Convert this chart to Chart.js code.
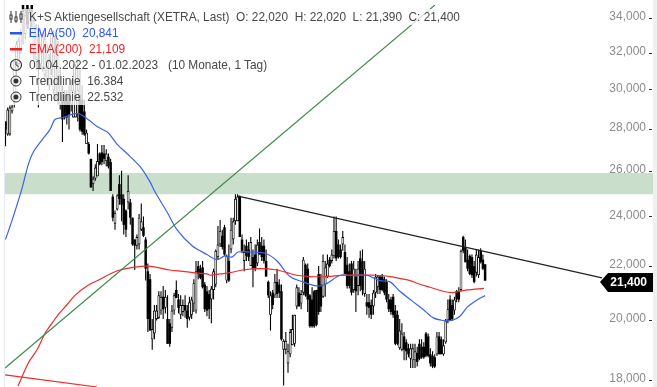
<!DOCTYPE html>
<html>
<head>
<meta charset="utf-8">
<script src="https://cdn.jsdelivr.net/npm/chart.js@4/dist/chart.umd.min.js"></script>
<style>
    html, body { margin: 0; padding: 0; background: #fff; overflow: hidden; }
    #wrap { position: relative; width: 657px; height: 387px; font-family: "Liberation Sans", Arial, sans-serif; }
    #chart { position: absolute; left: 0; top: 0; }
    #edgeLeft { position: absolute; left: 4px; top: 0; width: 1px; height: 387px; background: #e6e9f6; }
    #edgeRight { position: absolute; left: 653px; top: 0; width: 4px; height: 387px; background: #f0f0f0; }
    #legend { position: absolute; left: 9px; top: 9px; font-size: 11.85px; line-height: 16px; color: #484848; }
    #legend .row { height: 16px; white-space: nowrap; background: rgba(255, 255, 255, 0.78); width: max-content; padding-right: 4px; }
    #legend .row.short { width: 166px; padding-right: 0; }
    #legend svg { display: inline-block; width: 14px; height: 14px; vertical-align: -3px; margin: 0 6px 0 0; }
    .blue { color: #2b55f5; }
    .red { color: #f52020; }
</style>
</head>
<body>
<div id="wrap">
    <canvas id="chart" width="657" height="387"></canvas>
    <div id="edgeLeft"></div>
    <div id="edgeRight"></div>
    <div id="legend">
        <div class="row"><svg viewBox="0 0 14 14"><path d="M2 1v12M7 1v12M12 1v12" stroke="#333"/><rect x="1" y="5" width="2" height="4" fill="#fff" stroke="#333"/><rect x="6" y="7" width="2" height="4" fill="#fff" stroke="#333"/><rect x="11" y="4" width="2" height="5" fill="#fff" stroke="#333"/></svg>K+S Aktiengesellschaft (XETRA, Last)&nbsp; O: 22,020&nbsp; H: 22,020&nbsp; L: 21,390&nbsp; C: 21,400</div>
        <div class="row short blue"><svg viewBox="0 0 14 14"><rect x="1" y="6" width="12" height="2.5" fill="#2b55f5"/></svg>EMA(50)&nbsp; 20,841</div>
        <div class="row short red"><svg viewBox="0 0 14 14"><rect x="1" y="6" width="12" height="2.5" fill="#f52020"/></svg>EMA(200)&nbsp; 21,109</div>
        <div class="row"><svg viewBox="0 0 14 14"><circle cx="7" cy="7" r="5.5" fill="none" stroke="#333" stroke-width="1.2"/><path d="M7 3.5V7l2.5 1.5" fill="none" stroke="#333"/></svg>01.04.2022 - 01.02.2023&nbsp;&nbsp; (10 Monate, 1 Tag)</div>
        <div class="row short"><svg viewBox="0 0 14 14"><circle cx="7" cy="7" r="5" fill="none" stroke="#333"/><circle cx="7" cy="7" r="2.5" fill="#333"/></svg>Trendlinie&nbsp; 16.384</div>
        <div class="row short"><svg viewBox="0 0 14 14"><circle cx="7" cy="7" r="5" fill="none" stroke="#333"/><circle cx="7" cy="7" r="2.5" fill="#333"/></svg>Trendlinie&nbsp; 22.532</div>
    </div>
</div>
<script>
const opens = [
    28.3, 27.66, 27.66, 28.8, 29.4, 31, 31.3, 32.1, 35, 33, 34.9, 33.3, 35, 32.1, 31.55, 31, 31.3, 31.1, 30.7, 30.45,
    30.15, 31, 29.9, 29.65, 29.4, 29.15, 29.65, 29.65, 29.65, 29.65, 29.15, 28.5, 28.5, 28.65, 29.65, 29.4, 28.8, 27.2, 27.2, 26.5,
    25.35, 25.6, 25.7, 26.75, 26.8, 26.75, 26.4, 26.6, 26.35, 24.8, 23.65, 24.25, 25.35, 24.9, 24.7, 24.2, 24.55, 24.55, 23.9, 23,
    22.75, 22.8, 23.4, 23.5, 23, 21.75, 21.45, 19.3, 19.5, 20, 20.05, 20.3, 20.8, 20.4, 20, 19.85, 19.7, 20.3, 21.05, 20.7,
    20.15, 20.25, 20.5, 20.3, 20.05, 20.15, 20.55, 20.3, 21.95, 21.85, 21.9, 21.25, 21, 20.9, 20.7, 21.05, 21.25, 22.3, 22.8, 23.15,
    23.5, 21.4, 22.15, 22.6, 23, 23.75, 23.75, 24.8, 23, 22.15, 22.75, 22.6, 21.95, 22.3, 22.4, 22.05, 22.9, 22.75, 22.75, 22.15,
    21.35, 20.15, 20.95, 20.85, 21.35, 21.25, 21, 18.95, 18.95, 18.5, 18.8, 19.1, 19.15, 20.45, 20.95, 20.55, 20.95, 22, 21.85, 20.85,
    20.7, 21, 21.05, 21.65, 21.25, 20.8, 21.25, 21.55, 22.2, 22.15, 22.35, 23.35, 22.8, 22.6, 22.8, 22.5, 22, 21.75, 22.05, 21.05,
    21.55, 21.2, 22.25, 22.15, 20.9, 20.6, 20.6, 20.5, 20.45, 20.95, 21.15, 21.55, 21.55, 21.45, 21.35, 20.7, 20.7, 20.8, 20.3, 20.15,
    19, 18.95, 19.4, 19.2, 19, 18.65, 18.6, 18.6, 18.85, 19.15, 19.05, 19.05, 19.5, 19.4, 18.8, 18.75, 18.7, 18.8, 19.4, 19.3,
    18.8, 19.2, 19.95, 20.7, 20.5, 20.3, 21, 21, 21.05, 23.1, 22.7, 22.2, 22.35, 22.3, 21.95, 21.7, 21.6, 22.55, 22.2, 22.02
];
const highs = [
    28.3, 29, 29.1, 29.15, 31.55, 32.6, 32.8, 33.3, 35, 34.5, 35, 34.5, 35, 34.1, 33.55, 33.55, 33.3, 33.1, 33, 32.4,
    31.85, 33.2, 33.2, 33, 32.6, 31, 30.15, 29.9, 29.9, 30.15, 30.45, 31.3, 31.3, 31.55, 31, 30.15, 29.4, 27.9, 27.3, 26.5,
    25.7, 26.25, 27.2, 26.8, 27.15, 27.15, 26.95, 26.75, 26.5, 24.9, 24.2, 24.9, 25.75, 25.95, 24.9, 24.25, 25.75, 24.7, 23.9, 23,
    23.2, 24.05, 24.5, 23.95, 23.1, 22.05, 21.65, 20, 20.5, 20.5, 21, 21, 21.2, 21.05, 20.85, 20, 20.5, 20.95, 21.4, 20.9,
    20.85, 20.7, 20.85, 20.5, 20.8, 20.8, 21.45, 22.15, 22.15, 22, 22.15, 21.35, 21.2, 21.05, 21.2, 21.85, 22.6, 23.55, 23.8, 23.4,
    23.6, 22.4, 22.8, 23.9, 23.9, 24.9, 24.9, 24.85, 23.2, 22.8, 23, 22.9, 23.1, 22.6, 22.8, 23, 23.45, 23.1, 23, 22.6,
    21.4, 21, 21.05, 21.65, 21.85, 21.45, 21.25, 19.3, 19.55, 19.15, 19.65, 20.15, 20.15, 21.25, 21.15, 21.05, 22.3, 22.05, 22.05, 20.9,
    21.15, 21.05, 21.05, 21.95, 21.65, 22.4, 22.15, 22.4, 22.3, 22.6, 23.95, 23.95, 23, 22.8, 23.35, 22.8, 22.3, 22.05, 22.15, 22.15,
    21.85, 22.15, 22.55, 22.6, 22.15, 20.9, 20.9, 20.7, 21.05, 21.65, 21.6, 21.6, 21.65, 21.55, 21.45, 20.9, 20.8, 20.9, 20.5, 20.3,
    20, 19.85, 19.55, 19.3, 19.15, 19.15, 19.15, 19.15, 19.05, 19.3, 19.3, 19.2, 19.55, 19.5, 19, 18.9, 18.8, 19.55, 19.55, 19.4,
    19.3, 20, 20.7, 20.85, 20.7, 20.8, 21.05, 21.15, 22.6, 23.15, 23, 22.6, 22.4, 22.4, 22.15, 22.6, 22.6, 22.65, 22.4, 22.02
];
const lows = [
    27.1, 27.6, 27.6, 28.7, 29, 30.7, 31, 31.85, 32.4, 32.7, 33.3, 32.8, 33.4, 31.55, 31, 29, 31, 30.9, 30.45, 30.15,
    29.9, 30.7, 29.65, 29.4, 29.15, 28.9, 27.3, 28.4, 28.15, 27.9, 28.8, 28.5, 28.5, 28.3, 27.8, 27.65, 27.6, 27.2, 26.7, 25.2,
    25.05, 25.5, 25.7, 26.2, 26.2, 26.25, 26.15, 26.05, 25.05, 23.75, 23.4, 24.2, 24.45, 23.75, 23.2, 23.1, 24.25, 23.6, 22.75, 21.8,
    22.6, 22.6, 23.35, 23.1, 21.4, 19.55, 19.6, 18.95, 19.3, 19.95, 20, 20.15, 20, 20.2, 19.15, 19.05, 19.55, 20.15, 20.75, 20.2,
    20, 20.1, 20.05, 19.7, 19.95, 20, 20.25, 20.2, 21.45, 21.45, 21.1, 20.25, 20.1, 20, 19.85, 20.7, 21.15, 22.2, 22.7, 22.6,
    22.35, 21.3, 21.35, 22.45, 22.8, 23.6, 23.75, 23.1, 22.45, 21.75, 22.15, 22.15, 21.95, 21.15, 21.75, 21.95, 22.4, 22.15, 22.05, 21.55,
    20.75, 19.6, 20.35, 20.75, 20.75, 20.75, 19.25, 17.8, 18.8, 18.2, 18.7, 19.1, 19.05, 20.35, 20.45, 20.35, 20.85, 20.8, 20.25, 19.7,
    19.7, 19.7, 19.75, 20.15, 20.25, 20.75, 20.8, 21.5, 21.9, 22.05, 22.25, 22.15, 22.25, 22.25, 22.55, 21.65, 21.1, 21.1, 20.85, 20.95,
    20.25, 20.85, 21, 20.85, 20.8, 20.15, 20.05, 20, 20.15, 20.75, 20.9, 20.9, 21, 20.85, 20.6, 20.25, 20.15, 20.05, 19.1, 19.1,
    18.95, 18.9, 18.6, 18.6, 18.7, 18.35, 18.35, 18.35, 18.4, 18.6, 18.65, 18.65, 18.7, 18.7, 18.4, 18.35, 18.35, 18.75, 18.8, 18.8,
    18.75, 19.15, 19.85, 19.95, 19.95, 20.15, 20.6, 20.6, 21, 22.45, 22.1, 21.75, 21.6, 21.5, 21.3, 21.55, 21.5, 22.05, 21.8, 21.39
];
const closes = [
    27.9, 28.9, 29, 29.05, 31.45, 32.4, 32.6, 33, 34.3, 34.1, 33.55, 34.3, 34.3, 33.8, 33.3, 31.55, 33, 32.8, 32.7, 32.1,
    31.55, 33, 32.8, 32.1, 32.1, 30.7, 28.4, 28.5, 28.5, 28.65, 29.9, 29.9, 29.65, 29.9, 27.9, 27.8, 27.66, 27.75, 26.75, 25.2,
    25.6, 26.1, 26.4, 26.25, 26.35, 26.5, 26.75, 26.15, 25.05, 23.9, 24.1, 24.85, 24.7, 24.45, 23.6, 23.4, 25.05, 23.9, 22.8, 22.75,
    23.1, 23.9, 23.75, 23.15, 21.85, 20, 19.6, 19.65, 20.3, 20.3, 20.85, 20.8, 20.35, 20.8, 19.15, 19.15, 20.3, 20.85, 20.75, 20.4,
    20.5, 20.5, 20.3, 20, 20.6, 20.7, 21.3, 21.75, 21.65, 21.5, 21.15, 20.35, 20.3, 20.35, 21.1, 21.75, 22.55, 22.8, 23.35, 22.7,
    22.4, 22.35, 21.4, 23.4, 23.75, 24.7, 24.8, 23.1, 22.55, 22.5, 22.35, 22.3, 22.9, 21.85, 21.85, 22.8, 22.4, 22.3, 22.15, 21.55,
    20.85, 20.85, 20.5, 21.35, 20.9, 20.95, 19.3, 19.25, 19.25, 18.9, 19.55, 19.65, 20.15, 21.15, 20.45, 20.9, 22.2, 20.85, 20.7, 19.75,
    19.75, 19.75, 19.8, 20.25, 20.45, 22.15, 21.9, 22.05, 21.95, 22.4, 23.35, 22.25, 22.3, 22.3, 23.1, 21.65, 21.2, 21.2, 20.95, 21.85,
    21, 21.85, 21.2, 21.05, 21.85, 20.45, 20.4, 20.15, 20.95, 21.55, 21.55, 21.05, 21.05, 20.95, 20.7, 20.35, 20.25, 20.15, 19.15, 19.15,
    19.6, 19.5, 18.95, 18.9, 18.8, 19, 19, 18.9, 18.55, 18.65, 18.7, 18.7, 18.75, 18.75, 18.5, 18.4, 18.4, 19.4, 18.8, 18.8,
    19.1, 19.95, 20.35, 19.95, 20, 20.7, 20.7, 20.7, 22.55, 22.55, 22.1, 21.85, 21.65, 21.6, 21.35, 22.4, 22.3, 22.1, 21.85, 21.40
];

const ema50Days = [0, 3.4, 7.5, 10.3, 12.6, 16.7, 20.3, 22.6, 26.3, 33.1, 37.7, 41.8, 46.8, 50.9, 55.5, 61.4, 66, 68.3, 73.7, 78.3, 85.2, 92, 96.6, 100.2, 103.4, 106.2, 111.6, 118.5, 124, 129.9, 135.8, 142.2, 145.9, 152.7, 157.3, 165, 170.9, 175.6, 180.1, 185.6, 190.6, 195.2, 199.8, 203.9, 207.5, 211.2, 215.7, 219];
const ema50Values = [23, 23.9, 25.15, 26.2, 26.8, 27.4, 27.9, 28.4, 28.5, 28.7, 28.4, 28.05, 27.75, 27.2, 26.75, 26.15, 25.45, 25, 24.15, 23.4, 22.75, 22.4, 22.2, 22.35, 22.3, 22.5, 22.5, 22.45, 22.15, 21.55, 21.35, 21.2, 21.25, 21.6, 21.6, 21.6, 21.4, 21.35, 21, 20.65, 20.35, 20.05, 19.95, 19.95, 20.1, 20.45, 20.7, 20.84];
const ema200Days = [5.7, 10.3, 14.4, 18, 21.2, 24, 28, 31.7, 37.2, 43.2, 47.7, 52.3, 58.2, 64.6, 69.2, 75.1, 81, 85.6, 92, 93.4, 97.9, 102.5, 108.4, 116.2, 124, 128.5, 133.1, 139, 146.8, 154.1, 163.2, 169.6, 175.6, 178.8, 184.7, 187.9, 193.8, 199.8, 204.3, 210.7, 218.5];
const ema200Values = [17.78, 18.5, 18.95, 19.5, 19.85, 20.15, 20.5, 20.85, 21.2, 21.45, 21.65, 21.8, 21.9, 21.95, 21.9, 21.8, 21.75, 21.7, 21.65, 21.6, 21.65, 21.7, 21.8, 21.85, 21.8, 21.7, 21.6, 21.55, 21.55, 21.6, 21.6, 21.6, 21.55, 21.5, 21.4, 21.3, 21.15, 21, 20.95, 21.05, 21.11];

const greenTrendDays = [-0.2, 196.1];
const greenTrendValues = [18.35, 34.72];
const blackTrendDays = [106.2, 272.4];
const blackTrendValues = [24.82, 21.5];
const redTrendDays = [-0.2, 41.8];
const redTrendValues = [18.13, 17.75];

const zoneValues = [25.85, 24.9];
const tickValues = [34, 32, 30, 28, 26, 24, 22, 20, 18];
const tickLabels = ['34,000', '32,000', '30,000', '28,000', '26,000', '24,000', '22,000', '20,000', '18,000'];
const lastPrice = 21.4;
const lastPriceLabel = '21,400';

const xMin = -0.23;
const xMax = 295.67;
const yMin = 17.75;
const yMax = 34.725;

const days = opens.map((_, i) => i);
const upDays = days.filter(i => closes[i] >= opens[i]);
const downDays = days.filter(i => closes[i] < opens[i]);
const pairs = (xs, ys) => xs.map((x, i) => ({ x, y: ys[i] }));

const lineStyle = { type: 'line', pointRadius: 0, borderJoinStyle: 'round', tension: 0, fill: false };
const barStyle = { type: 'bar', grouped: false, borderSkipped: false, inflateAmount: 0 };

// small dashes at the axis and the black last price tag
const priceAxisMarks = {
    id: 'priceAxisMarks',
    afterDatasetsDraw(chart) {
        const { ctx, scales: { y }, chartArea } = chart;
        ctx.save();
        ctx.fillStyle = '#333';
        tickValues.forEach(v => ctx.fillRect(chartArea.right - 4, Math.round(y.getPixelForValue(v)) + 1, 3, 1));
        const py = Math.round(y.getPixelForValue(lastPrice)) + 1;
        ctx.fillStyle = '#000';
        ctx.beginPath();
        ctx.moveTo(600, py);
        ctx.lineTo(608, py - 9);
        ctx.lineTo(chartArea.right, py - 9);
        ctx.lineTo(chartArea.right, py + 10);
        ctx.lineTo(608, py + 10);
        ctx.closePath();
        ctx.fill();
        ctx.fillStyle = '#fff';
        ctx.font = 'bold 12px "Liberation Sans", Arial, sans-serif';
        ctx.textAlign = 'right';
        ctx.textBaseline = 'middle';
        ctx.fillText(lastPriceLabel, 647, py + 0.5);
        ctx.restore();
    }
};

new Chart(document.getElementById('chart').getContext('2d'), {
    data: {
        datasets: [
            { ...lineStyle, label: 'Zone', order: 20, data: pairs([xMin, xMax], [zoneValues[0], zoneValues[0]]), borderWidth: 0, backgroundColor: '#c9decb', fill: '+1' },
            { ...lineStyle, label: 'Zone low', order: 21, data: pairs([xMin, xMax], [zoneValues[1], zoneValues[1]]), borderWidth: 0 },
            { ...barStyle, label: 'Wicks', order: 10, barThickness: 1.1, backgroundColor: '#000', data: days.map(i => ({ x: i, y: [lows[i], highs[i]] })) },
            { ...barStyle, label: 'Up', order: 9, barThickness: 2.8, backgroundColor: '#fff', borderColor: '#000', borderWidth: 0.9, data: upDays.map(i => ({ x: i, y: [opens[i], closes[i]] })) },
            { ...barStyle, label: 'Down', order: 8, barThickness: 2.5, backgroundColor: '#000', data: downDays.map(i => ({ x: i, y: [opens[i], closes[i]] })) },
            { ...lineStyle, label: 'EMA(50)', order: 4, borderColor: '#3a62ee', borderWidth: 1.2, tension: 0.3, data: pairs(ema50Days, ema50Values) },
            { ...lineStyle, label: 'EMA(200)', order: 3, borderColor: '#f02a2a', borderWidth: 1.2, tension: 0.3, data: pairs(ema200Days, ema200Values) },
            { ...lineStyle, label: 'Trendlinie', order: 2, borderColor: '#3f8a47', borderWidth: 1.2, data: pairs(greenTrendDays, greenTrendValues) },
            { ...lineStyle, label: 'Trendlinie', order: 2, borderColor: '#222', borderWidth: 1.2, data: pairs(blackTrendDays, blackTrendValues) },
            { ...lineStyle, label: 'Trendlinie', order: 2, borderColor: '#f02a2a', borderWidth: 1.2, data: pairs(redTrendDays, redTrendValues) }
        ]
    },
    options: {
        responsive: false,
        animation: false,
        layout: { padding: { left: 5, top: 5, right: 4, bottom: 0 } },
        plugins: { legend: { display: false }, tooltip: { enabled: false } },
        scales: {
            x: { type: 'linear', min: xMin, max: xMax, display: false, offset: false },
            y: {
                type: 'logarithmic',
                position: 'right',
                min: yMin,
                max: yMax,
                afterBuildTicks: scale => { scale.ticks = tickValues.map(value => ({ value })); },
                afterFit: scale => { scale.width = 0; scale.paddingTop = 0; scale.paddingBottom = 0; },
                grid: { drawOnChartArea: false, drawTicks: false },
                border: { display: false },
                ticks: {
                    mirror: true,
                    padding: -7,
                    autoSkip: false,
                    color: '#8c8c8c',
                    font: { family: '"Liberation Sans", Arial, sans-serif', size: 12 },
                    callback: value => tickLabels[tickValues.indexOf(value)]
                }
            }
        }
    },
    plugins: [priceAxisMarks]
});
</script>
</body>
</html>
